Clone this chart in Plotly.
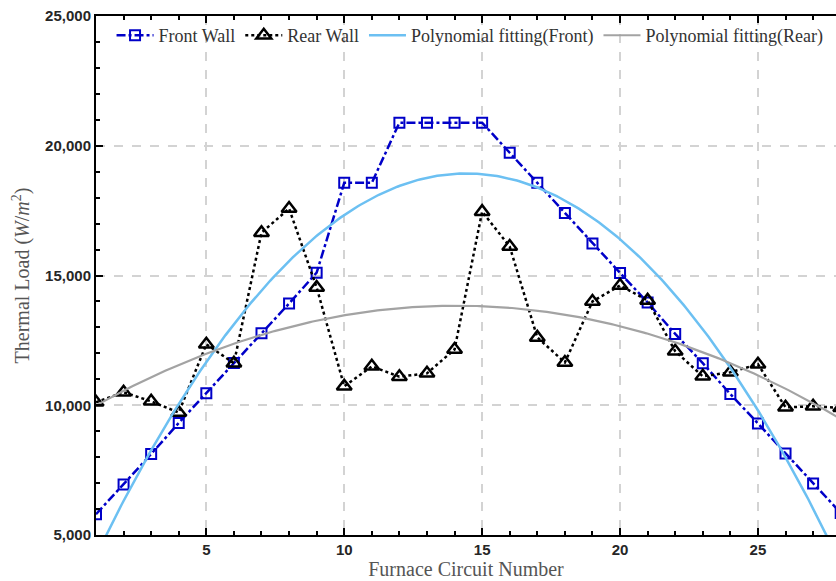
import numpy as np
import plotly.graph_objects as go

circuits = list(range(1, 29))
front_wall = [5800, 6950, 8120, 9320, 10460, 11630, 12770, 13920, 15110, 18570,
              18570, 20890, 20890, 20890, 20890, 19730, 18570, 17410, 16230, 15100,
              13960, 12750, 11620, 10430, 9300, 8140, 6980, 5850]
rear_wall = [10115, 10500, 10150, 9720, 12350, 11620, 16650, 17580, 14540, 10730,
             11500, 11100, 11230, 12150, 17460, 16115, 12615, 11650, 14000, 14615,
             14040, 12080, 11115, 11270, 11580, 9920, 9960, 9900]
x_ticks = [5, 10, 15, 20, 25]
y_ticks = [5000, 10000, 15000, 20000, 25000]
y_tick_labels = ["5,000", "10,000", "15,000", "20,000", "25,000"]

# polynomial (2nd order) fits of the two series
xf = np.linspace(1, 28, 300)
pf = np.polyfit(circuits, front_wall, 2)
pr = np.polyfit(circuits, rear_wall, 2)
fit_front = np.polyval(pf, xf)
fit_rear = np.polyval(pr, xf)

BLUE = "#0000C8"
fig = go.Figure()
fig.add_trace(go.Scatter(x=circuits, y=front_wall, name="Front Wall", mode="lines+markers",
                         line=dict(color=BLUE, width=2.5, dash="dashdot"),
                         marker=dict(symbol="square-open", size=10, color=BLUE,
                                     line=dict(width=2, color=BLUE))))
fig.add_trace(go.Scatter(x=circuits, y=rear_wall, name="Rear Wall", mode="lines+markers",
                         line=dict(color="black", width=2.5, dash="dot"),
                         marker=dict(symbol="triangle-up-open", size=13, color="black",
                                     line=dict(width=2.5, color="black"))))
fig.add_trace(go.Scatter(x=xf, y=fit_front, name="Polynomial fitting(Front)", mode="lines",
                         line=dict(color="#6CC0F2", width=2.5)))
fig.add_trace(go.Scatter(x=xf, y=fit_rear, name="Polynomial fitting(Rear)", mode="lines",
                         line=dict(color="#A3A3A3", width=2.2)))

tickfont = dict(family="Liberation Sans, Arial, sans-serif", size=15, color="#262626", weight="bold")
titlefont = dict(family="Liberation Serif, DejaVu Serif, serif", size=20, color="#555555")

fig.update_layout(
    width=836, height=581,
    margin=dict(l=96, r=0, t=16, b=46),
    plot_bgcolor="white", paper_bgcolor="white",
    showlegend=True,
    legend=dict(orientation="h", x=0.021, xanchor="left", y=0.998, yanchor="top",
                bgcolor="rgba(0,0,0,0)", itemwidth=37,
                font=dict(family="Liberation Serif, DejaVu Serif, serif", size=18, color="#333333")),
    xaxis=dict(range=[1, 27.83], tickvals=x_ticks, ticks="inside", ticklen=7, tickwidth=1.5,
               tickcolor="black", showline=True, linecolor="black", linewidth=2,
               mirror="ticks", showgrid=True, gridcolor="#D3D3D3", griddash="dash", gridwidth=1.5,
               zeroline=False, tickfont=tickfont, automargin=False,
               minor=dict(dtick=1, ticks="inside", ticklen=4, tickcolor="black", showgrid=False),
               title=dict(text="Furnace Circuit Number", font=titlefont, standoff=2)),
    yaxis=dict(range=[5000, 25000], tickvals=y_ticks, ticktext=y_tick_labels, ticks="inside",
               ticklen=7, tickwidth=1.5, tickcolor="black", showline=True, linecolor="black",
               linewidth=2, mirror=False, showgrid=True, gridcolor="#D3D3D3", griddash="dash",
               gridwidth=1.5, zeroline=False, tickfont=tickfont, automargin=False,
               minor=dict(dtick=1000, ticks="inside", ticklen=4, tickcolor="black", showgrid=False),
               title=dict(text="Thermal Load (<i>W</i>/<i>m</i><sup>2</sup>)", font=titlefont,
                          standoff=10)),
)

fig.write_html("out.html", config={"displayModeBar": False},
               post_script="document.body.style.margin='0';document.body.style.padding='0';")
